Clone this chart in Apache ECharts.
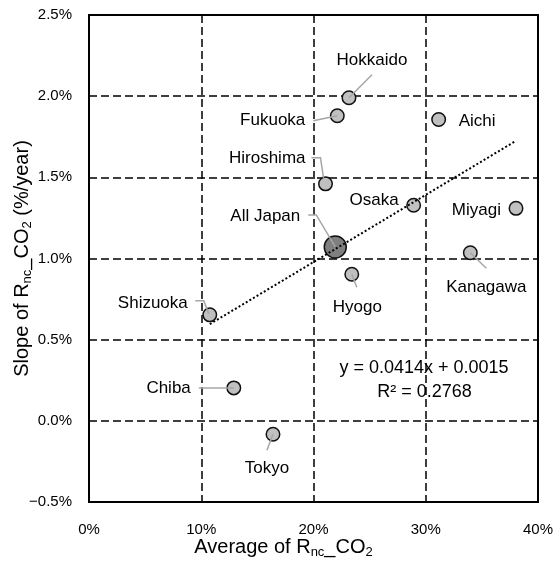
<!DOCTYPE html>
<html>
<head>
<meta charset="utf-8">
<title>Slope vs average of Rnc_CO2</title>
<script src="https://cdn.jsdelivr.net/npm/echarts@6/dist/echarts.min.js"></script>
<style>
  html, body { margin: 0; padding: 0; background: #fff; }
  #chart { width: 554px; height: 565px; }
</style>
</head>
<body>
<div id="chart"></div>
<script>
// prefectures (and the national average)
var names = ['Hokkaido', 'Fukuoka', 'Aichi', 'Hiroshima', 'All Japan', 'Osaka',
             'Miyagi', 'Kanagawa', 'Hyogo', 'Shizuoka', 'Chiba', 'Tokyo'];
// average of Rnc_CO2 (%)
var avgRnc = [23.16, 22.12, 31.15, 21.07, 21.94, 28.92, 38.04, 33.97, 23.41, 10.76, 12.90, 16.39];
// slope of Rnc_CO2 (%/year)
var slopeRnc = [1.990, 1.879, 1.856, 1.460, 1.071, 1.328, 1.309, 1.035, 0.903, 0.653, 0.203, -0.083];

// linear trend as printed on the chart (fraction units)
var trendSlope = 0.0414;
var trendIntercept = 0.0015;
var trendText = ['y = 0.0414x + 0.0015', 'R\u00b2 = 0.2768'];

var xTicks = [0, 10, 20, 30, 40];
var yTicks = [-0.5, 0, 0.5, 1.0, 1.5, 2.0, 2.5];

// where each label sits, in pixels from its point, and its grey leader line
var labelPlace = {
  'Hokkaido':  { dx: 23,  dy: -37, align: 'center', line: [[0, 0], [23, -23]] },
  'Fukuoka':   { dx: -32, dy: 5,   align: 'right',  line: [[-24, 5], [0, 0]] },
  'Aichi':     { dx: 20,  dy: 2,   align: 'left' },
  'Hiroshima': { dx: -20, dy: -26, align: 'right',  line: [[-14, -26], [-5, -26], [-2, -6]] },
  'All Japan': { dx: -35, dy: -31, align: 'right',  line: [[-27, -32], [-19, -32], [0, 0]] },
  'Osaka':     { dx: -15, dy: -5,  align: 'right' },
  'Miyagi':    { dx: -15, dy: 1.5, align: 'right' },
  'Kanagawa':  { dx: 16,  dy: 34,  align: 'center', line: [[0, 0], [16, 15.5]] },
  'Hyogo':     { dx: 5.5, dy: 33,  align: 'center', line: [[0, 0], [5, 13]] },
  'Shizuoka':  { dx: -22, dy: -12, align: 'right',  line: [[-14.5, -14], [-6, -14], [-1, -1]] },
  'Chiba':     { dx: -43, dy: 0.5, align: 'right',  line: [[-35, 0], [0, 0]] },
  'Tokyo':     { dx: -6,  dy: 34,  align: 'center', line: [[0, 0], [-6, 16]] }
};

var chart = echarts.init(document.getElementById('chart'));

var points = names.map(function (n, i) {
  var isAll = n === 'All Japan';
  return {
    name: n,
    value: [avgRnc[i], slopeRnc[i], i],
    symbolSize: isAll ? 22 : 13.5,
    itemStyle: { color: isAll ? '#7f7f7f' : '#c0c0c0' }
  };
});

// trend line drawn over the prefecture range only
var prefX = avgRnc.filter(function (v, i) { return names[i] !== 'All Japan'; });
var xMin = Math.min.apply(null, prefX);
var xMax = Math.max.apply(null, prefX);
var trendAt = function (x) { return trendSlope * x + trendIntercept * 100; };

var tickFont = '"Liberation Sans", Arial, sans-serif';
var rich = {
  a: { fontSize: 20, lineHeight: 22, verticalAlign: 'top', color: '#000', fontFamily: tickFont },
  s: { fontSize: 13, lineHeight: 13, verticalAlign: 'top', padding: [9, 0, 0, 0], color: '#000', fontFamily: tickFont }
};

var option = {
  animation: false,
  grid: { left: 89, right: 16, top: 15, bottom: 63, show: true, borderColor: '#000', borderWidth: 2, outerBoundsMode: 'none' },
  xAxis: {
    type: 'value', min: xTicks[0], max: xTicks[xTicks.length - 1], interval: 10,
    axisLine: { show: false }, axisTick: { show: false },
    axisLabel: { margin: 20, color: '#000', fontSize: 15, fontFamily: tickFont,
      formatter: function (v) { return v + '%'; } },
    splitLine: { lineStyle: { color: '#000', width: 1.5, type: [8, 4] } },
    name: '{a|Average of R}{s|nc}{a|_CO}{s|2}',
    nameLocation: 'middle', nameGap: 35, nameMoveOverlap: false,
    nameTextStyle: { rich: rich, padding: [0, 60, 0, 0] }
  },
  yAxis: {
    type: 'value', min: yTicks[0], max: yTicks[yTicks.length - 1], interval: 0.5,
    axisLine: { show: false }, axisTick: { show: false },
    axisLabel: { margin: 17, color: '#000', fontSize: 15, fontFamily: tickFont,
      formatter: function (v) { return (v < 0 ? '\u2212' : '') + Math.abs(v).toFixed(1) + '%'; } },
    splitLine: { lineStyle: { color: '#000', width: 1.5, type: [8, 4] } },
    name: '{a|Slope of R}{s|nc}{a|_CO}{s|2}{a| (%/year)}',
    nameLocation: 'middle', nameGap: 55, nameMoveOverlap: false,
    nameTextStyle: { rich: rich }
  },
  graphic: [
    { type: 'text', x: 424, y: 368, style: { text: trendText[0], align: 'center', verticalAlign: 'middle', fill: '#000', font: '18px ' + tickFont } },
    { type: 'text', x: 424.5, y: 392, style: { text: trendText[1], align: 'center', verticalAlign: 'middle', fill: '#000', font: '18px ' + tickFont } }
  ],
  series: [
    {
      type: 'scatter', z: 2, silent: true,
      itemStyle: { borderColor: '#111', borderWidth: 1.5, opacity: 1 },
      data: points
    },
    {
      type: 'line', z: 3, silent: true, symbol: 'none',
      lineStyle: { color: '#000', width: 2, type: [2, 2.2] },
      data: [[xMin, trendAt(xMin)], [xMax, trendAt(xMax)]]
    },
    {
      type: 'custom', z: 4, silent: true,
      data: points.map(function (p) { return p.value; }),
      renderItem: function (params, api) {
        var i = api.value(2);
        var c = api.coord([api.value(0), api.value(1)]);
        var lay = labelPlace[names[i]];
        var kids = [];
        if (lay.line) {
          kids.push({
            type: 'polyline',
            shape: { points: lay.line.map(function (p) { return [c[0] + p[0], c[1] + p[1]]; }) },
            style: { stroke: '#a6a6a6', lineWidth: 1.5, fill: 'none' }
          });
        }
        kids.push({
          type: 'text', x: c[0] + lay.dx, y: c[1] + lay.dy,
          style: { text: names[i], align: lay.align, verticalAlign: 'middle', fill: '#000',
                   font: '17px ' + tickFont }
        });
        return { type: 'group', children: kids };
      }
    }
  ]
};
chart.setOption(option);
</script>
</body>
</html>
